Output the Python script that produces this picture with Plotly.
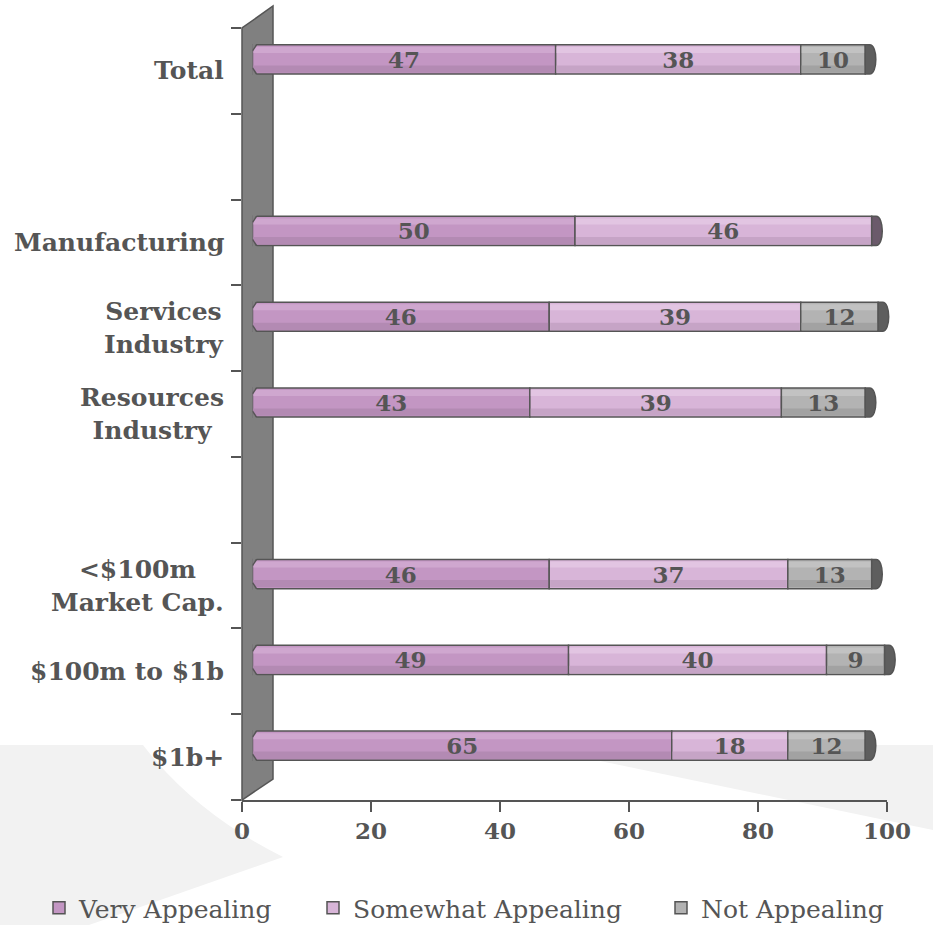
import plotly.graph_objects as go

# Survey rows from top to bottom; blank rows separate the three groups
categories = ["Total", "", "Manufacturing", "Services<br>Industry",
              "Resources<br>Industry", "", "<$100m<br>Market Cap.",
              "$100m to $1b", "$1b+"]
very_appealing = [47, None, 50, 46, 43, None, 46, 49, 65]
somewhat_appealing = [38, None, 46, 39, 39, None, 37, 40, 18]
not_appealing = [10, None, None, 12, 13, None, 13, 9, 12]
x_ticks = [0, 20, 40, 60, 80, 100]

series = [
    ("Very Appealing", very_appealing,
     dict(fill="#C396C3", light="#CFA7CF", dark="#B38AB3", cap="#6B5A6B",
          legend="legend", lx=39)),
    ("Somewhat Appealing", somewhat_appealing,
     dict(fill="#D8B5D8", light="#E2C5E2", dark="#C6A4C6", cap="#6B5A6B",
          legend="legend2", lx=313)),
    ("Not Appealing", not_appealing,
     dict(fill="#B3B3B3", light="#C2C2C2", dark="#A2A2A2", cap="#5E5E5E",
          legend="legend3", lx=661)),
]

INK = "#555555"
WALL = "#808080"
SERIF = "DejaVu Serif"

# canvas and plot-area geometry (pixels)
W, H = 933, 925
L, R, T, B = 242, 10, 6, 125
PW, PH = W - L - R, H - T - B


def fx(px):
    return (px - L) / PW


def fy(py):
    return (H - B - py) / PH


DEPTH_X, DEPTH_Y = 10.5, 11.5      # 3-D shift of the bar layer
BW = 0.34                          # bar thickness in row units

n = len(categories)
pos = list(range(n - 1, -1, -1))   # first row on top

fig = go.Figure()

# cumulative starts of every segment
cum = [0.0] * n
bases = []
for _, vals, _ in series:
    b = []
    for i, v in enumerate(vals):
        b.append(cum[i] if v is not None else None)
        if v is not None:
            cum[i] += v
    bases.append(b)

# bars with cylinder shading bands
for (name, vals, st), base in zip(series, bases):
    fig.add_trace(go.Bar(
        x=vals, y=pos, base=base, orientation="h",
        width=BW, offset=-BW / 2,
        marker=dict(color=st["fill"], line=dict(color=INK, width=1.5)),
        name=name, legend=st["legend"],
        xaxis="x2", yaxis="y2", hoverinfo="skip",
    ))
    inner_x = [v - 0.3 if v is not None else None for v in vals]
    inner_b = [b + 0.15 if b is not None else None for b in base]
    fig.add_trace(go.Bar(
        x=inner_x, y=pos, base=inner_b, orientation="h",
        width=0.085, offset=-BW / 2 + 0.015,
        marker=dict(color=st["dark"], line=dict(width=0)),
        showlegend=False, xaxis="x2", yaxis="y2", hoverinfo="skip",
    ))
    fig.add_trace(go.Bar(
        x=inner_x, y=pos, base=inner_b, orientation="h",
        width=0.07, offset=BW / 2 - 0.095,
        marker=dict(color=st["light"], line=dict(width=0)),
        showlegend=False, xaxis="x2", yaxis="y2", hoverinfo="skip",
    ))

# value labels on top of the shaded bars
label_font = dict(family=SERIF, size=23, color=INK, weight="bold")
for (name, vals, st), base in zip(series, bases):
    fig.add_trace(go.Bar(
        x=vals, y=pos, base=base, orientation="h",
        width=BW, offset=-BW / 2,
        marker=dict(color="rgba(0,0,0,0)", line=dict(width=0)),
        text=[str(v) if v is not None else "" for v in vals],
        textposition="inside", insidetextanchor="middle",
        textfont=label_font, insidetextfont=label_font,
        constraintext="none", textangle=0,
        showlegend=False, xaxis="x2", yaxis="y2", hoverinfo="skip",
    ))

shapes = []
# light decorative swoosh behind the chart
shapes.append(dict(
    type="path", xref="paper", yref="paper", layer="below",
    path=(f"M {fx(0)},{fy(745)} L {fx(143)},{fy(745)} "
          f"Q {fx(195)},{fy(813)} {fx(283)},{fy(857)} "
          f"L {fx(89)},{fy(925)} L {fx(0)},{fy(925)} Z"),
    fillcolor="#F2F2F2", line=dict(width=0),
))
shapes.append(dict(
    type="path", xref="paper", yref="paper", layer="below",
    path=(f"M {fx(523)},{fy(745)} L {fx(933)},{fy(745)} "
          f"L {fx(933)},{fy(830)} Z"),
    fillcolor="#F2F2F2", line=dict(width=0),
))
# back wall of the 3-D plot
shapes.append(dict(
    type="path", xref="paper", yref="paper", layer="below",
    path=(f"M {fx(242)},{fy(800)} L {fx(242)},{fy(28)} "
          f"L {fx(273)},{fy(6)} L {fx(273)},{fy(779)} Z"),
    fillcolor=WALL, line=dict(color=INK, width=1.5),
))

# bar ends: chamfered start against the wall, rounded cap at the far end
cx, cy = 0.62, 0.07          # chamfer size in axis units
for i in range(n):
    last = None
    for (_, vals, st), base in zip(series, bases):
        if vals[i] is not None:
            last = st
    if last is None:
        continue
    yc, h = pos[i], BW / 2
    for sgn in (1, -1):
        top = yc + sgn * h
        shapes.append(dict(
            type="path", xref="x2", yref="y2", layer="above",
            path=(f"M {-0.25},{top + sgn * 0.02} L {cx + 0.1},{top + sgn * 0.02} "
                  f"L {-0.25},{top - sgn * (cy + 0.012)} Z"),
            fillcolor=WALL, line=dict(width=0),
        ))
        shapes.append(dict(
            type="line", xref="x2", yref="y2", layer="above",
            x0=cx, y0=top, x1=0, y1=top - sgn * cy,
            line=dict(color=INK, width=1.5),
        ))
    t, d = cum[i], 1.7
    shapes.append(dict(
        type="path", xref="x2", yref="y2", layer="above",
        path=(f"M {t},{yc + h} L {t + 0.4 * d},{yc + h} "
              f"C {t + 1.15 * d},{yc + h} {t + 1.15 * d},{yc - h} "
              f"{t + 0.4 * d},{yc - h} L {t},{yc - h} Z"),
        fillcolor=last["cap"], line=dict(color=INK, width=1.5),
    ))

# row labels, centred line by line
annotations = []
for c, p in zip(categories, pos):
    if not c:
        continue
    annotations.append(dict(
        text=c, x=fx(226), xref="paper", y=p, yref="y",
        xanchor="right", yanchor="middle", align="center",
        showarrow=False,
        font=dict(family=SERIF, size=25, color=INK, weight="bold"),
    ))

# one legend box per series so the entries sit where they belong
legends = {}
for name, _, st in series:
    legends[st["legend"]] = dict(
        orientation="h", xref="paper", yref="paper",
        x=fx(st["lx"]), xanchor="left", y=fy(908), yanchor="middle",
        font=dict(family=SERIF, size=25, color=INK),
        bgcolor="rgba(0,0,0,0)",
    )

fig.update_layout(
    width=W, height=H,
    margin=dict(l=L, r=R, t=T, b=B, pad=0, autoexpand=False),
    paper_bgcolor="white", plot_bgcolor="rgba(0,0,0,0)",
    barmode="overlay",
    shapes=shapes, annotations=annotations,
    xaxis=dict(
        domain=[0, fx(887)], range=[0, 100], tickvals=x_ticks,
        showgrid=False, zeroline=False, showline=True,
        linecolor=INK, linewidth=1.5,
        ticks="outside", ticklen=10, tickwidth=1.5, tickcolor=INK,
        tickfont=dict(family=SERIF, size=23, color=INK, weight="bold"),
        fixedrange=True,
    ),
    yaxis=dict(
        domain=[0, fy(28)], range=[-0.5, n - 0.5],
        showgrid=False, zeroline=False, showline=False,
        showticklabels=False, ticks="",
        minor=dict(tickmode="linear", tick0=-0.5, dtick=1,
                   ticks="outside", ticklen=10, tickwidth=1.5,
                   tickcolor=INK, showgrid=False),
        fixedrange=True,
    ),
    xaxis2=dict(
        domain=[fx(242 + DEPTH_X), fx(887 + DEPTH_X)], range=[0, 100],
        anchor="y2", visible=False, fixedrange=True,
    ),
    yaxis2=dict(
        domain=[fy(800 - DEPTH_Y), fy(28 - DEPTH_Y)], range=[-0.5, n - 0.5],
        anchor="x2", visible=False, fixedrange=True,
    ),
    **legends,
)

fig.write_html("out.html")
